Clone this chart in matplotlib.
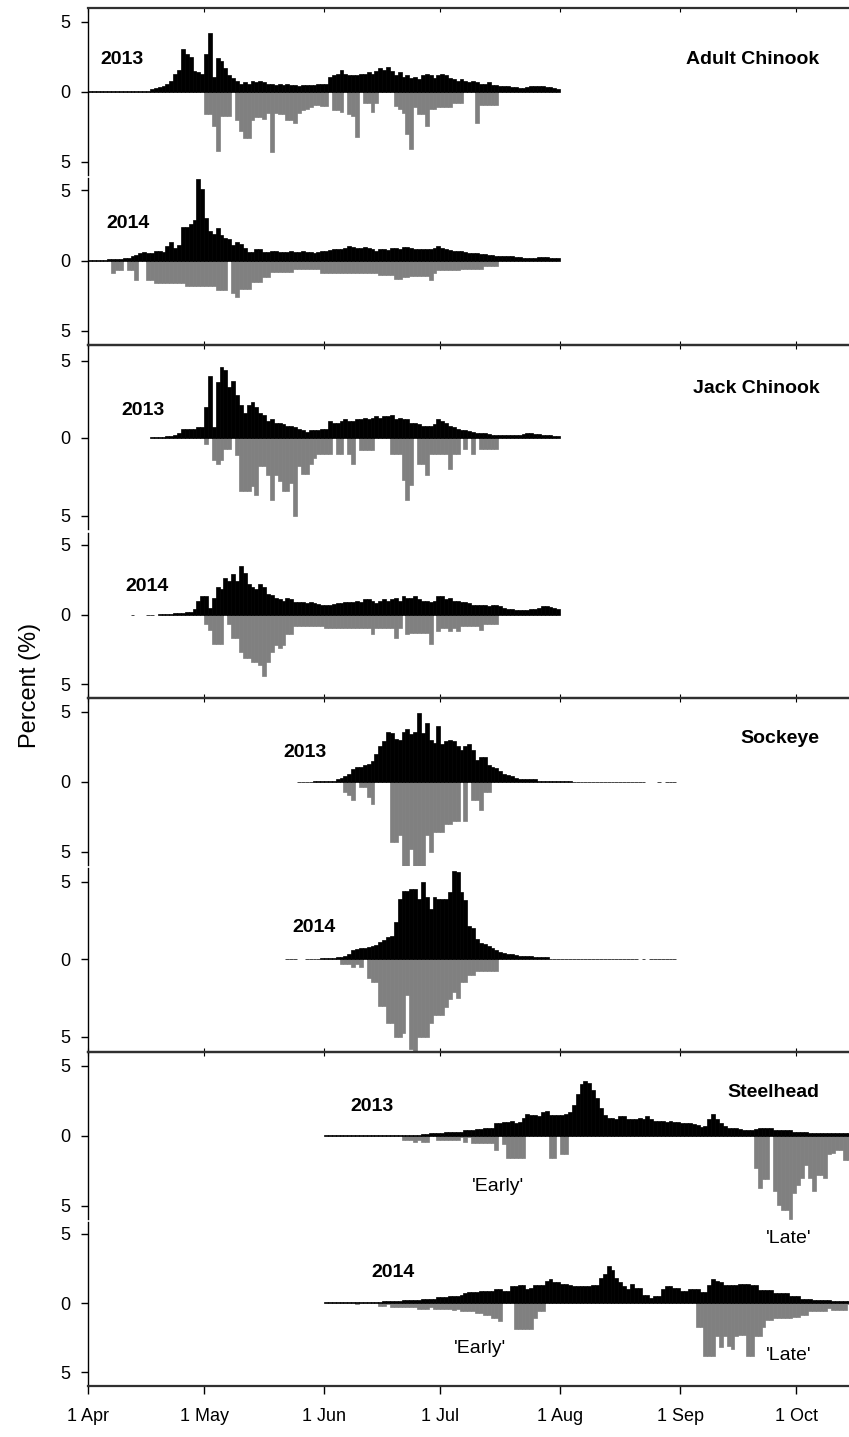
import matplotlib
matplotlib.use('Agg')
import matplotlib.pyplot as plt

plt.rcParams['font.family'] = ['Liberation Sans', 'DejaVu Sans']

# dias contados a partir de 1 de abril (dia 0)
month_days = [0, 30, 61, 91, 122, 153, 183]
month_labels = ['1 Apr', '1 May', '1 Jun', '1 Jul', '1 Aug', '1 Sep', '1 Oct']
x_max = 196.6

species = ['Adult Chinook', 'Jack Chinook', 'Sockeye', 'Steelhead']
years = ['2013', '2014', '2013', '2014', '2013', '2014', '2013', '2014']

# ---- Adult Chinook ----
adult13_start = 0
adult13_black = [
    0.05, 0.05, 0.05, 0.05, 0.05, 0.1, 0.1, 0.1, 0.1, 0.1,
    0.1, 0.08, 0.08, 0.08, 0.08, 0.08, 0.2, 0.3, 0.35, 0.4,
    0.6, 0.8, 1.3, 1.6, 3.1, 2.7, 2.5, 1.5, 1.4, 1.3,
    2.7, 4.2, 1.1, 2.4, 2.2, 1.7, 1.2, 1.0, 0.8, 0.6,
    0.7, 0.6, 0.8, 0.7, 0.8, 0.7, 0.6, 0.6, 0.5, 0.6,
    0.5, 0.55, 0.5, 0.5, 0.45, 0.5, 0.5, 0.5, 0.5, 0.55,
    0.6, 0.6, 1.1, 1.2, 1.3, 1.6, 1.3, 1.2, 1.2, 1.25,
    1.3, 1.3, 1.4, 1.3, 1.5, 1.7, 1.6, 1.8, 1.5, 1.2,
    1.4, 1.1, 1.2, 1.0, 1.1, 0.9, 1.2, 1.3, 1.2, 1.0,
    1.2, 1.3, 1.2, 1.0, 0.9, 0.8, 0.9, 0.8, 0.7, 0.8,
    0.7, 0.6, 0.6, 0.7, 0.5, 0.5, 0.4, 0.45, 0.4, 0.35,
    0.35, 0.3, 0.3, 0.35, 0.4, 0.45, 0.4, 0.4, 0.35, 0.35,
    0.3, 0.2]
adult13_gray_start = 30
adult13_gray = [
    1.6, 1.6, 2.4, 4.2, 1.7, 1.7, 1.7, 0, 2.0, 2.8,
    3.3, 3.3, 2.0, 1.8, 1.8, 1.9, 1.5, 4.3, 1.5, 1.6,
    1.6, 2.0, 2.0, 2.2, 1.5, 1.3, 1.2, 1.1, 0.9, 0.9,
    1.0, 1.0, 0, 1.3, 1.3, 1.4, 0, 1.6, 1.7, 3.2,
    0, 0.8, 0.8, 1.4, 0.8, 0, 0, 0, 0, 1.0,
    1.2, 1.5, 3.0, 4.1, 1.1, 1.6, 1.6, 2.4, 1.2, 1.2,
    1.1, 1.1, 1.1, 1.1, 0.8, 0.8, 0.8, 0, 0, 0,
    2.2, 0.9, 0.9, 0.9, 0.9, 0.9]

adult14_start = 0
adult14_black = [
    0.05, 0.05, 0.05, 0.05, 0.05, 0.1, 0.1, 0.1, 0.1, 0.15,
    0.2, 0.3, 0.4, 0.5, 0.6, 0.5, 0.5, 0.7, 0.7, 0.6,
    1.0, 1.3, 0.9, 1.1, 2.4, 2.4, 2.6, 2.9, 5.8, 5.1,
    3.0, 2.1, 1.9, 2.3, 1.8, 1.6, 1.5, 1.1, 1.3, 1.2,
    0.9, 0.6, 0.6, 0.8, 0.8, 0.6, 0.6, 0.7, 0.7, 0.6,
    0.6, 0.6, 0.65, 0.6, 0.6, 0.65, 0.6, 0.6, 0.55, 0.6,
    0.7, 0.7, 0.75, 0.8, 0.8, 0.85, 0.9, 1.0, 0.95, 0.9,
    0.9, 0.95, 0.9, 0.85, 0.7, 0.8, 0.8, 0.75, 0.9, 0.9,
    0.8, 0.95, 0.95, 0.9, 0.8, 0.85, 0.8, 0.85, 0.8, 0.9,
    1.0, 0.9, 0.85, 0.75, 0.7, 0.65, 0.7, 0.6, 0.55, 0.5,
    0.5, 0.45, 0.45, 0.4, 0.4, 0.35, 0.35, 0.3, 0.3, 0.3,
    0.25, 0.25, 0.2, 0.2, 0.2, 0.2, 0.25, 0.25, 0.25, 0.2,
    0.2, 0.15]
adult14_gray_start = 6
adult14_gray = [
    0.9, 0.7, 0.7, 0,
    0.7, 0.7, 1.4, 0, 0, 1.4, 1.4, 1.6, 1.6, 1.6,
    1.6, 1.6, 1.6, 1.6, 1.6, 1.8, 1.8, 1.8, 1.8, 1.8,
    1.8, 1.8, 1.8, 2.1, 2.1, 2.1, 0, 2.3, 2.6, 2.0,
    2.0, 2.0, 1.5, 1.5, 1.5, 1.2, 1.2, 0.8, 0.8, 0.8,
    0.8, 0.8, 0.8, 0.6, 0.6, 0.6, 0.6, 0.6, 0.6, 0.6,
    0.9, 0.9, 0.9, 0.9, 0.9, 0.9, 0.9, 0.9, 0.9, 0.9,
    0.9, 0.9, 0.9, 0.9, 0.9, 1.05, 1.05, 1.05, 1.05, 1.3,
    1.3, 1.2, 1.2, 1.1, 1.1, 1.1, 1.1, 1.1, 1.4, 0.9,
    0.7, 0.7, 0.7, 0.7, 0.7, 0.7, 0.6, 0.6, 0.6, 0.6,
    0.6, 0.6, 0.4, 0.4, 0.4, 0.4]

# ---- Jack Chinook ----
jack13_start = 16
jack13_black = [
    0.05, 0.05, 0.05, 0.05,
    0.1, 0.1, 0.2, 0.3, 0.6, 0.6, 0.55, 0.55, 0.7, 0.7,
    2.0, 4.0, 0.7, 3.6, 4.6, 4.4, 3.3, 3.7, 2.8, 2.1,
    1.6, 2.1, 2.3, 2.0, 1.6, 1.5, 1.1, 1.2, 1.0, 1.0,
    0.9, 0.8, 0.8, 0.7, 0.6, 0.5, 0.4, 0.5, 0.5, 0.5,
    0.6, 0.6, 1.1, 1.0, 1.0, 1.1, 1.2, 1.1, 1.1, 1.2,
    1.2, 1.3, 1.2, 1.3, 1.4, 1.3, 1.4, 1.4, 1.5, 1.2,
    1.3, 1.2, 1.2, 1.0, 1.0, 0.9, 0.8, 0.8, 0.8, 0.9,
    1.2, 1.1, 1.0, 0.8, 0.7, 0.6, 0.5, 0.5, 0.45, 0.4,
    0.35, 0.35, 0.3, 0.25, 0.2, 0.2, 0.2, 0.2, 0.2, 0.2,
    0.2, 0.2, 0.25, 0.3, 0.3, 0.25, 0.25, 0.2, 0.2, 0.2,
    0.15, 0.15]
jack13_gray_start = 30
jack13_gray = [
    0.4, 0, 1.4, 1.7, 1.4, 0.7, 0.7, 0, 1.1, 3.4,
    3.4, 3.4, 3.1, 3.7, 1.8, 1.8, 2.4, 4.0, 2.4, 2.8,
    3.4, 3.4, 2.9, 5.0, 1.8, 2.3, 2.3, 1.7, 1.3, 1.0,
    1.0, 1.0, 1.0, 0, 1.0, 1.0, 0, 1.0, 1.7, 0,
    0.75, 0.75, 0.75, 0.75, 0, 0, 0, 0, 1.0, 1.0,
    1.0, 2.7, 4.0, 3.0, 0, 1.7, 1.7, 2.4, 1.0, 1.0,
    1.0, 1.0, 1.0, 2.0, 1.0, 1.0, 0, 0.7, 0, 1.0,
    0, 0.7, 0.7, 0.7, 0.7, 0.7]

jack14_start = 11
jack14_black = [
    0.0, None, None, None, 0.0, 0.0, None, 0.02, 0.03,
    0.05, 0.05, 0.08, 0.1, 0.1, 0.15, 0.2, 0.4, 1.0, 1.3,
    1.3, 0.5, 1.2, 2.0, 1.8, 2.6, 2.4, 2.9, 2.4, 3.5,
    3.0, 2.2, 2.0, 1.8, 2.2, 2.0, 1.5, 1.4, 1.2, 1.1,
    1.0, 1.2, 1.1, 0.9, 0.9, 0.9, 0.8, 0.9, 0.8, 0.75,
    0.7, 0.7, 0.7, 0.75, 0.8, 0.8, 0.9, 0.9, 0.9, 1.0,
    0.9, 1.1, 1.1, 1.0, 0.8, 1.0, 1.1, 1.0, 1.1, 1.2,
    1.0, 1.3, 1.2, 1.2, 1.3, 1.1, 1.0, 1.0, 0.9, 1.0,
    1.3, 1.3, 1.1, 1.2, 1.0, 1.0, 0.9, 0.9, 0.8, 0.7,
    0.7, 0.7, 0.7, 0.6, 0.7, 0.7, 0.6, 0.5, 0.4, 0.4,
    0.35, 0.35, 0.35, 0.35, 0.4, 0.4, 0.45, 0.6, 0.6, 0.55,
    0.5, 0.4]
jack14_gray_start = 30
jack14_gray = [
    0.7, 1.1, 2.1, 2.1, 2.1, 0, 0.7, 1.7, 1.7, 2.7,
    3.1, 3.1, 3.4, 3.4, 3.6, 4.4, 3.4, 2.7, 2.2, 2.4,
    2.2, 1.4, 1.4, 0.8, 0.8, 0.8, 0.8, 0.8, 0.8, 0.8,
    0.8, 1.0, 1.0, 1.0, 1.0, 1.0, 1.0, 1.0, 1.0, 1.0,
    1.0, 1.0, 1.0, 1.4, 1.0, 1.0, 1.0, 1.0, 1.0, 1.7,
    1.0, 0, 1.4, 1.3, 1.3, 1.3, 1.3, 1.3, 2.1, 0,
    1.2, 1.0, 1.0, 1.2, 1.0, 1.2, 0.8, 0.8, 0.8, 0.8,
    0.8, 1.1, 0.7, 0.7, 0.7, 0.7]

# ---- Sockeye ----
sock13_start = 54
sock13_black = [
    0.02, 0.02, 0.03, 0.03, 0.04, 0.05, 0.05, 0.06, 0.08, 0.1,
    0.2, 0.3, 0.4, 0.6, 0.9, 1.1, 1.1, 1.2, 1.3, 1.5,
    2.0, 2.6, 2.9, 3.6, 3.5, 3.1, 3.0, 3.6, 3.8, 3.4,
    3.6, 4.9, 3.5, 4.2, 3.0, 2.8, 4.0, 2.7, 2.9, 3.0,
    2.9, 2.6, 2.3, 2.6, 2.7, 2.3, 1.6, 1.8, 1.8, 1.2,
    1.1, 1.0, 0.8, 0.6, 0.5, 0.4, 0.3, 0.25, 0.2, 0.2,
    0.2, 0.2, 0.1, 0.1, 0.1, 0.1, 0.1, 0.1, 0.1, 0.1,
    0.1, 0.03, 0.03, 0.03, 0.03, 0.03, 0.03, 0.03, 0.03, 0.03,
    0.03, 0.03, 0.03, 0.03, 0.03, 0.03, 0.03, 0.03, 0.03, 0.03,
    None, None, None, 0.0, None, 0.0, 0.0, 0.0]
sock13_gray_start = 66
sock13_gray = [
    0.7, 0.9, 1.3, 0, 0.35, 0.35, 1.1, 1.55, 0, 0,
    0, 0, 4.3, 4.3, 3.8, 6.2, 6.2, 4.8, 6.2, 6.2,
    6.2, 3.8, 5.0, 3.6, 3.6, 3.6, 3.0, 3.0, 2.8, 2.8,
    0, 2.8, 0, 1.3, 1.3, 2.0, 0.7, 0.7]

sock14_start = 51
sock14_black = [
    0.0, 0.0, 0.0, None, None, 0.02, 0.02, 0.03, 0.03, 0.04,
    0.05, 0.06, 0.08, 0.1, 0.15, 0.2, 0.3, 0.6, 0.65, 0.7,
    0.7, 0.75, 0.85, 0.9, 1.1, 1.2, 1.4, 1.5, 2.4, 3.9,
    4.4, 4.4, 4.5, 4.5, 3.9, 5.0, 4.0, 3.2, 4.0, 3.9,
    3.9, 3.9, 4.3, 5.65, 5.6, 4.35, 3.8, 2.1, 2.0, 1.3,
    1.05, 1.0, 0.85, 0.7, 0.6, 0.45, 0.4, 0.35, 0.3, 0.25,
    0.2, 0.2, 0.2, 0.2, 0.1, 0.1, 0.1, 0.1, 0.03, 0.03,
    0.03, 0.03, 0.03, 0.03, 0.03, 0.03, 0.03, 0.03, 0.03, 0.03,
    0.03, 0.03, 0.03, 0.03, 0.03, 0.03, 0.03, 0.03, 0.03, 0.03, 0.03,
    None, 0.0, None, 0.0, 0.0, 0.0, 0.0, 0.0, 0.0, 0.0]
sock14_gray_start = 65
sock14_gray = [
    0.3, 0.3, 0.3, 0.5, 0.3, 0.5, 0, 1.2, 1.5, 1.5,
    3.05, 3.05, 4.1, 4.1, 5.05, 5.05, 4.8, 2.3, 5.8, 6.2,
    5.05, 5.05, 5.05, 4.1, 3.6, 3.6, 3.6, 3.1, 2.6, 2.1,
    2.5, 1.5, 1.5, 1.05, 1.05, 0.8, 0.8, 0.8, 0.8, 0.8, 0.8]

# ---- Steelhead ----
steel13_start = 61
steel13_black = [
    0.05, 0.05, 0.05, 0.05, 0.05, 0.05, 0.05, 0.05, 0.05, 0.08,
    0.08, 0.08, 0.08, 0.08, 0.08, 0.08, 0.08, 0.1, 0.1, 0.1,
    0.1, 0.1, 0.1, 0.1, 0.1, 0.15, 0.15, 0.2, 0.2, 0.2,
    0.2, 0.3, 0.3, 0.3, 0.3, 0.3, 0.4, 0.4, 0.45, 0.5,
    0.5, 0.6, 0.6, 0.6, 0.9, 0.9, 1.0, 1.0, 1.1, 0.9,
    1.0, 1.3, 1.6, 1.5, 1.5, 1.4, 1.7, 1.8, 1.5, 1.5,
    1.5, 1.5, 1.6, 1.7, 2.2, 3.0, 3.7, 3.9, 3.8, 3.3,
    2.7, 2.0, 1.5, 1.3, 1.3, 1.2, 1.4, 1.4, 1.2, 1.2,
    1.2, 1.3, 1.2, 1.4, 1.2, 1.1, 1.1, 1.1, 1.0, 1.1,
    1.0, 1.0, 0.95, 0.9, 0.95, 0.85, 0.8, 0.65, 0.7, 1.2,
    1.55, 1.2, 0.9, 0.7, 0.6, 0.6, 0.55, 0.5, 0.45, 0.45,
    0.45, 0.5, 0.55, 0.6, 0.55, 0.55, 0.45, 0.45, 0.4, 0.4,
    0.4, 0.3, 0.3, 0.3, 0.3, 0.25, 0.25, 0.25, 0.25, 0.2,
    0.2, 0.2, 0.2, 0.2, 0.2, 0.2]
steel13_early_start = 81
steel13_early = [
    0.3, 0.3, 0.3, 0.4, 0.3, 0.4, 0.4, 0, 0, 0.3,
    0.3, 0.3, 0.3, 0.3, 0.3, 0.1, 0.45, 0.1, 0.5, 0.5,
    0.5, 0.5, 0.5, 0.5, 1.0, 0, 0.6, 1.6, 1.6, 1.6,
    1.6, 1.6, 0, 0, 0, 0, 0, 0, 1.6, 1.6,
    0, 1.3, 1.3]
steel13_late_start = 172
steel13_late = [
    2.3, 3.7, 3.1, 3.1, 0, 3.9, 4.9, 5.3, 5.3, 5.9,
    4.1, 3.5, 3.0, 2.1, 3.0, 3.9, 2.8, 2.8, 3.0, 1.3,
    1.2, 1.0, 1.0, 1.7, 1.7]

steel14_start = 61
steel14_black = [
    0.05, 0.05, 0.05, 0.05, 0.05, 0.05, 0.05, 0.1, 0.1, 0.1,
    0.1, 0.1, 0.1, 0.1, 0.1, 0.15, 0.15, 0.15, 0.15, 0.15,
    0.2, 0.2, 0.2, 0.2, 0.2, 0.3, 0.3, 0.3, 0.3, 0.4,
    0.4, 0.4, 0.5, 0.5, 0.5, 0.6, 0.7, 0.8, 0.8, 0.8,
    0.9, 0.9, 0.9, 0.9, 1.0, 1.0, 0.9, 0.9, 1.2, 1.2,
    1.3, 1.3, 1.0, 1.1, 1.3, 1.3, 1.3, 1.6, 1.7, 1.5,
    1.5, 1.4, 1.4, 1.3, 1.2, 1.2, 1.2, 1.2, 1.2, 1.3,
    1.3, 1.8, 2.1, 2.7, 2.4, 1.8, 1.5, 1.2, 1.0, 1.4,
    1.1, 1.1, 0.6, 0.6, 0.35, 0.5, 0.5, 1.0, 1.25, 1.25,
    1.1, 1.1, 0.85, 0.85, 1.0, 1.0, 1.0, 0.8, 0.8, 1.3,
    1.7, 1.6, 1.5, 1.3, 1.3, 1.3, 1.3, 1.35, 1.35, 1.35,
    1.3, 1.3, 0.95, 0.95, 0.95, 0.95, 0.7, 0.7, 0.7, 0.7,
    0.5, 0.5, 0.5, 0.3, 0.3, 0.3, 0.2, 0.2, 0.2, 0.2,
    0.2, 0.12, 0.12, 0.12, 0.12, 0.12]
steel14_early_start = 69
steel14_early = [
    0.1, 0, 0, 0, 0, 0, 0.2, 0.2, 0.1, 0.3,
    0.3, 0.3, 0.3, 0.3, 0.3, 0.3, 0.4, 0.4, 0.4, 0.3,
    0.4, 0.4, 0.4, 0.4, 0.4, 0.5, 0.4, 0.55, 0.55, 0.55,
    0.55, 0.7, 0.7, 0.9, 0.9, 1.1, 1.1, 1.3, 0, 0,
    0, 1.9, 1.9, 1.9, 1.9, 1.9, 1.1, 0.6, 0.6]
steel14_late_start = 157
steel14_late = [
    1.7, 1.7, 3.8, 3.8, 3.8, 2.4, 3.2, 2.4, 3.1, 3.3,
    2.4, 2.3, 2.3, 3.8, 3.8, 2.4, 2.4, 1.7, 1.2, 1.2,
    1.1, 1.1, 1.1, 1.1, 1.1, 1.0, 1.0, 0.85, 0.85, 0.6,
    0.6, 0.6, 0.6, 0.6, 0.35, 0.5, 0.5, 0.5, 0.5, 0.1]

panels = [
    (adult13_start, adult13_black, [(adult13_gray_start, adult13_gray)]),
    (adult14_start, adult14_black, [(adult14_gray_start, adult14_gray)]),
    (jack13_start, jack13_black, [(jack13_gray_start, jack13_gray)]),
    (jack14_start, jack14_black, [(jack14_gray_start, jack14_gray)]),
    (sock13_start, sock13_black, [(sock13_gray_start, sock13_gray)]),
    (sock14_start, sock14_black, [(sock14_gray_start, sock14_gray)]),
    (steel13_start, steel13_black, [(steel13_early_start, steel13_early),
                                    (steel13_late_start, steel13_late)]),
    (steel14_start, steel14_black, [(steel14_early_start, steel14_early),
                                    (steel14_late_start, steel14_late)]),
]

# posicao dos rotulos (em unidades dos eixos)
year_xy = [(8.8, 2.3), (10.3, 2.6), (14.2, 1.8), (15.2, 2.0),
           (56.1, 2.1), (58.4, 2.0), (73.4, 2.1), (78.8, 2.2)]
species_y = [2.3, 3.2, 3.1, 3.1]

W, H = 849, 1437
edges_px = [8, 176, 345, 531, 698, 866, 1052, 1220, 1386]
left_px = 88
gray = '#808080'


def desenhar_barras(ax, start, values, sign, color, keep_zero):
    xs, hs = [], []
    for i, v in enumerate(values):
        if v is None or (v == 0 and not keep_zero):
            continue
        xs.append(start + i)
        hs.append(sign * v)
    ax.bar(xs, hs, width=1.0, align='edge', color=color, edgecolor=color,
           linewidth=0.5)


fig = plt.figure(figsize=(W / 100, H / 100), dpi=100)
axes = []
for i, (bstart, black, grays) in enumerate(panels):
    top, bot = edges_px[i], edges_px[i + 1]
    ax = fig.add_axes([left_px / W, 1 - bot / H, 1 - left_px / W, (bot - top) / H])
    ax.set_facecolor('none')
    axes.append(ax)

    for gstart, gvals in grays:
        desenhar_barras(ax, gstart, gvals, -1, gray, False)
    desenhar_barras(ax, bstart, black, 1, 'black', True)

    ax.set_xlim(0, x_max)
    ax.set_ylim(-6, 6)
    ax.set_yticks([-5, 0, 5])
    ax.set_yticklabels(['5', '0', '5'])
    ax.tick_params(axis='y', direction='out', length=5, width=1,
                   labelsize=13, pad=8)
    ax.set_xticks(month_days)
    ax.spines['right'].set_visible(False)
    ax.spines['left'].set_linewidth(1.0)

    upper = (i % 2 == 0)
    if upper:
        ax.spines['bottom'].set_visible(False)
        ax.spines['top'].set_linewidth(1.6)
        ax.spines['top'].set_color('#303030')
        ax.spines['left'].set_bounds(-5.9, 6)
        ax.tick_params(axis='x', bottom=False, top=True, direction='in',
                       length=3, labelbottom=False)
    else:
        ax.spines['top'].set_visible(False)
        ax.spines['bottom'].set_linewidth(1.6)
        ax.spines['bottom'].set_color('#303030')
        ax.spines['left'].set_bounds(-6, 5.85)
        if i == 7:
            ax.set_xticklabels(month_labels)
            ax.tick_params(axis='x', direction='out', length=6, width=1,
                           labelsize=13, pad=10)
        else:
            ax.tick_params(axis='x', direction='in', length=3,
                           labelbottom=False)

    ax.text(year_xy[i][0], year_xy[i][1], years[i], ha='center', va='center',
            fontsize=14, fontweight='bold')
    if upper:
        ax.text(189, species_y[i // 2], species[i // 2], ha='right',
                va='center', fontsize=14, fontweight='bold')

axes[6].text(106, -3.6, "'Early'", ha='center', va='center', fontsize=14)
axes[6].text(181, -7.3, "'Late'", ha='center', va='center', fontsize=14)
axes[7].text(101.3, -3.3, "'Early'", ha='center', va='center', fontsize=14)
axes[7].text(181, -3.8, "'Late'", ha='center', va='center', fontsize=14)

fig.text(30 / W, 1 - 685 / H, 'Percent (%)', rotation=90, ha='center',
         va='center', fontsize=17)

fig.savefig('out.png', dpi=100)
